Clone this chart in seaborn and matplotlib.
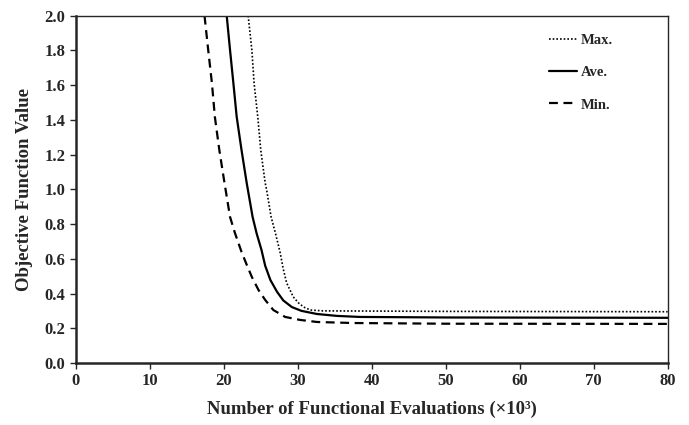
import numpy as np
import pandas as pd
import matplotlib
matplotlib.use("Agg")
import matplotlib.pyplot as plt
import seaborn as sns

# ---- data (x in thousands of evaluations) ----
max_x = [23.3, 23.8, 24.1, 24.6, 25.0, 25.6, 25.8, 26.4, 27.0, 27.6, 28.05, 28.5,
         29.4, 30.1, 30.8, 31.7, 33.4, 50, 80]
max_y = [2.0, 1.802, 1.612, 1.417, 1.227, 1.037, 0.996, 0.841, 0.745, 0.640, 0.540,
         0.461, 0.380, 0.346, 0.322, 0.305, 0.300, 0.297, 0.295]

ave_x = [20.4, 20.85, 21.3, 21.75, 22.4, 23.1, 23.9, 24.45, 25.1, 25.6, 26.3, 27.2,
         28.05, 29.2, 30.5, 32.6, 35.3, 38.4, 50, 80]
ave_y = [2.0, 1.802, 1.612, 1.417, 1.227, 1.037, 0.841, 0.745, 0.651, 0.560, 0.478,
         0.410, 0.360, 0.322, 0.300, 0.282, 0.271, 0.265, 0.262, 0.260]

min_x = [17.4, 17.9, 18.4, 18.8, 19.4, 20.1, 20.85, 21.5, 22.4, 23.1, 23.8, 24.7,
         25.6, 26.7, 28.3, 30.3, 32.6, 37.5, 50, 80]
min_y = [2.0, 1.802, 1.612, 1.417, 1.227, 1.037, 0.841, 0.750, 0.640, 0.566, 0.495,
         0.420, 0.363, 0.305, 0.265, 0.248, 0.236, 0.230, 0.226, 0.225]

series = ["Max.", "Ave.", "Min."]
styles = {"Max.": (0, (1, 1.2)), "Ave.": "-", "Min.": (0, (4, 2.5))}
widths = {"Max.": 1.2, "Ave.": 1.6, "Min.": 1.6}

# ---- plot ----
sns.set_style("ticks")
plt.rcParams["font.family"] = ["Liberation Serif", "DejaVu Serif"]
plt.rcParams["font.weight"] = "bold"

fig, ax = plt.subplots(figsize=(6.89, 4.25), dpi=100)
fig.subplots_adjust(left=0.11, right=0.969, top=0.963, bottom=0.146)

data = {"Max.": (max_x, max_y), "Ave.": (ave_x, ave_y), "Min.": (min_x, min_y)}
for name in series:
    xs, ys = data[name]
    df = pd.DataFrame({"x": xs, "y": ys})
    sns.lineplot(data=df, x="x", y="y", ax=ax, color="black", sort=False,
                 linestyle=styles[name], linewidth=widths[name], label=name)

ax.set_xlim(0, 80)
ax.set_ylim(0, 2.0)
ax.set_xticks(np.arange(0, 81, 10))
ax.set_yticks(np.arange(0, 2.01, 0.2))
ax.set_yticklabels([f"{v:.1f}" for v in np.arange(0, 2.01, 0.2)])
ax.tick_params(labelsize=12, length=4, width=1, direction="out")
for lab in ax.get_xticklabels() + ax.get_yticklabels():
    lab.set_fontweight("bold")

ax.set_xlabel("Number of Functional Evaluations (×10³)", fontsize=13.5, fontweight="bold", labelpad=8)
ax.set_ylabel("Objective Function Value", fontsize=13.5, fontweight="bold", labelpad=8)

for side in ["top", "right"]:
    ax.spines[side].set_linewidth(1.0)
for side in ["left", "bottom"]:
    ax.spines[side].set_linewidth(1.8)

leg = ax.legend(loc="upper right", bbox_to_anchor=(0.93, 0.985), frameon=False,
                handlelength=1.9, handletextpad=0.3, labelspacing=1.3,
                prop={"weight": "bold", "size": 10.5})

fig.savefig("out.png", dpi=100)
